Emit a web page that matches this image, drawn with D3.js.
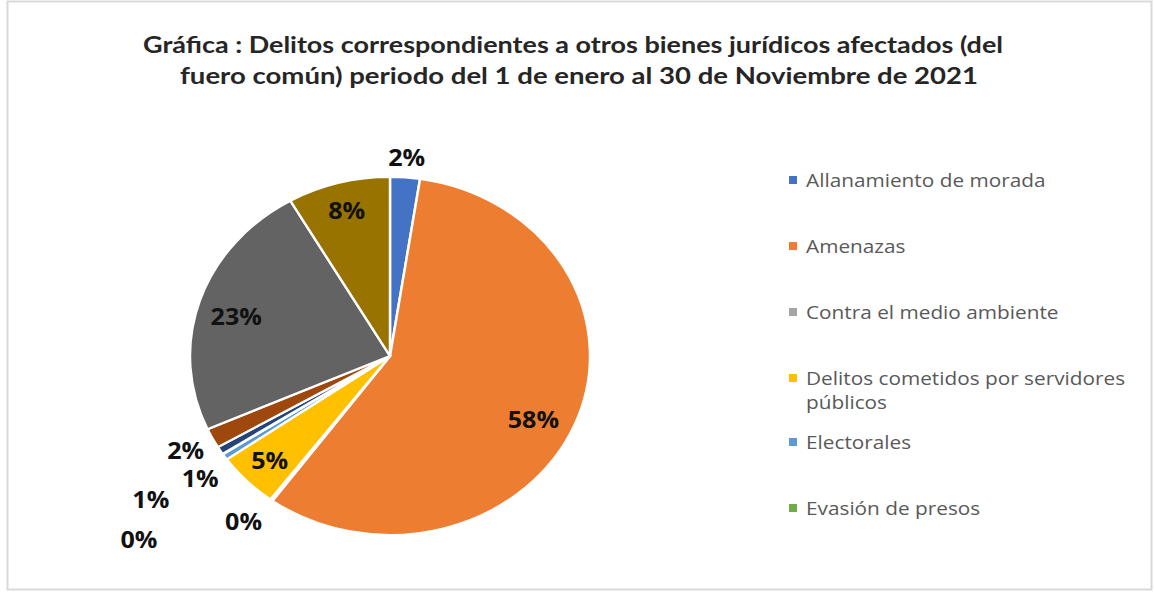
<!DOCTYPE html>
<html lang="es">
<head>
    <meta charset="UTF-8">
    <title>Delitos correspondientes a otros bienes jurídicos afectados</title>
    <script src="https://d3js.org/d3.v7.min.js"></script>
    <style>
        body {
            margin: 0;
            background: #fff;
            font-family: Lato, "Open Sans", Arial, sans-serif;
        }
    </style>
</head>
<body>
    <svg id="chart" width="1154" height="592"></svg>

    <script>
        // categorias (orden de Excel) y porcentajes
        const categories = [
            "Allanamiento de morada",
            "Amenazas",
            "Contra el medio ambiente",
            "Delitos cometidos por servidores públicos",
            "Electorales",
            "Evasión de presos",
            "Falsedad",
            "Falsificación",
            "Narcomenudeo",
            "Otros delitos del Fuero Común"
        ];
        const values = [2.4, 57.6, 0.2, 5.0, 0.55, 0.05, 0.7, 1.8, 23.4, 8.3];
        const colors = ["#4472C4", "#ED7D31", "#A5A5A5", "#FFC000", "#5B9BD5",
                        "#70AD47", "#264478", "#9E480E", "#636363", "#997300"];
        // la leyenda de Excel quedo cortada despues de 6 entradas
        const legendItems = categories.slice(0, 6);
        const titleLines = [
            "Gráfica : Delitos correspondientes a otros bienes jurídicos afectados (del",
            "fuero común) periodo del 1 de enero al 30 de Noviembre de 2021"
        ];

        const svg = d3.select("#chart");

        // marco
        svg.append("rect")
            .attr("x", 7.5).attr("y", 1.5)
            .attr("width", 1144).attr("height", 588)
            .attr("fill", "#fff")
            .attr("stroke", "#d9d9d9")
            .attr("stroke-width", 2);

        // titulo
        const titleWidths = [860, 798];
        svg.selectAll(".title")
            .data(titleLines)
            .join("text")
            .attr("class", "title")
            .attr("x", (d, i) => i === 0 ? 573 : 579)
            .attr("y", (d, i) => 53 + i * 31)
            .attr("text-anchor", "middle")
            .attr("font-size", 22)
            .attr("font-weight", "bold")
            .attr("fill", "#262626")
            .attr("textLength", (d, i) => titleWidths[i])
            .attr("lengthAdjust", "spacingAndGlyphs")
            .text(d => d);

        // pastel (la imagen original esta estirada en horizontal)
        const cx = 390, cy = 356, r = 179, sx = 200 / 179;
        const total = d3.sum(values);
        const pct = d3.format(".0%");

        const pie = d3.pie().sort(null).value(d => d)(values);
        const arc = d3.arc().innerRadius(0).outerRadius(r);

        const g = svg.append("g")
            .attr("transform", `translate(${cx},${cy}) scale(${sx},1)`);

        g.selectAll("path")
            .data(pie)
            .join("path")
            .attr("d", arc)
            .attr("fill", (d, i) => colors[i])
            .attr("stroke", "#fff")
            .attr("stroke-width", 2.2)
            .attr("stroke-linejoin", "round");

        // posicion de etiquetas: factor de radio y giro (grados) por sector
        const labelRadius = [1.11, 0.8, 1.18, 0.84, 1.17, 1.62, 1.44, 1.15, 0.8, 0.84];
        const labelTurn = [0, 4, 2, 0, -1.5, -6, -2, 0, -2, 0];

        svg.selectAll(".lbl")
            .data(pie)
            .join("text")
            .attr("class", "lbl")
            .attr("transform", (d, i) => {
                const a = (d.startAngle + d.endAngle) / 2 + labelTurn[i] * Math.PI / 180;
                const rr = r * labelRadius[i];
                return `translate(${cx + sx * rr * Math.sin(a)},${cy - rr * Math.cos(a)}) scale(${sx},1)`;
            })
            .attr("text-anchor", "middle")
            .attr("dominant-baseline", "central")
            .attr("font-family", "'Open Sans', sans-serif")
            .attr("font-size", 22.5)
            .attr("font-weight", "bold")
            .attr("fill", "#111")
            .text(d => pct(d.value / total));

        // leyenda
        const legendY = [180, 246, 312, 378, 442, 508];
        const leg = svg.selectAll(".leg")
            .data(legendItems)
            .join("g")
            .attr("class", "leg")
            .attr("transform", (d, i) => `translate(789,${legendY[i]})`);

        leg.append("rect")
            .attr("x", 0).attr("y", -4)
            .attr("width", 8).attr("height", 8)
            .attr("fill", (d, i) => colors[i]);

        leg.append("text")
            .attr("transform", `translate(17,0) scale(${sx},1)`)
            .attr("font-family", "'Open Sans', sans-serif")
            .attr("font-size", 18.6)
            .attr("fill", "#595959")
            .each(function (d) {
                // partir como en Excel cuando no cabe
                const lines = d.length > 32 ? ["Delitos cometidos por servidores", "públicos"] : [d];
                d3.select(this).selectAll("tspan")
                    .data(lines)
                    .join("tspan")
                    .attr("x", 0)
                    .attr("dy", (l, j) => j === 0 ? "0.35em" : 24)
                    .text(l => l);
            });
    </script>
</body>
</html>
